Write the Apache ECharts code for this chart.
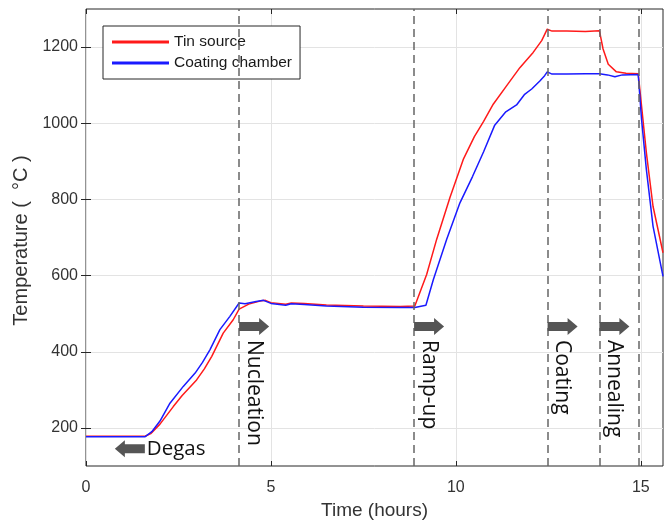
<!DOCTYPE html>
<html>
<head>
<meta charset="utf-8">
<script src="https://cdn.jsdelivr.net/npm/echarts@6/dist/echarts.min.js"></script>
<style>html,body{margin:0;padding:0;background:#fff;}#c{width:670px;height:520px;}</style>
</head>
<body>
<div id="c"></div>
<script>
// ---- data ----
const tinTime = [0, 1.6, 1.75, 2.0, 2.36, 2.6, 2.99, 3.2, 3.4, 3.71, 3.98, 4.14, 4.4, 4.7, 4.85, 5.0, 5.4, 5.55, 5.9, 6.5, 7.5, 8.5, 8.89,
  9.21, 9.48, 9.84, 10.2, 10.5, 10.75, 11.01, 11.37, 11.73, 12.09, 12.32, 12.47, 12.6, 13.0, 13.5, 13.88, 13.98, 14.12, 14.34, 14.6, 14.93, 15.15, 15.33, 15.6];
const tinTemp = [178, 178, 185, 210, 256, 285, 326, 355, 388, 449, 484, 512, 525, 533, 535, 529, 525, 528, 527, 523, 520, 519, 520,
  603, 695, 805, 905, 965, 1005, 1050, 1098, 1146, 1186, 1217, 1247, 1242, 1242, 1241, 1243, 1195, 1155, 1135, 1131, 1130, 923, 782, 660];
const chamberTime = [0, 1.6, 1.78, 2.0, 2.27, 2.63, 2.95, 3.15, 3.35, 3.62, 3.89, 4.14, 4.3, 4.6, 4.8, 5.0, 5.4, 5.55, 5.9, 6.5, 7.5, 8.5, 8.89,
  9.19, 9.39, 9.75, 10.11, 10.45, 10.75, 11.05, 11.35, 11.64, 11.85, 12.05, 12.27, 12.4, 12.47, 12.6, 13.0, 13.5, 13.88, 14.1, 14.3, 14.5, 14.93, 15.02, 15.15, 15.33, 15.6];
const chamberTemp = [177, 177, 190, 218, 265, 309, 344, 372, 405, 458, 493, 528, 526, 532, 535, 527, 522, 526, 524, 520, 517, 516, 516,
  522, 589, 695, 791, 860, 925, 995, 1030, 1048, 1075, 1090, 1111, 1125, 1135, 1129, 1129, 1130, 1130, 1127, 1122, 1127, 1128, 1010, 879, 730, 598];
const seriesNames = ['Tin source', 'Coating chamber'];
const xTicks = [0, 5, 10, 15];
const yTicks = [200, 400, 600, 800, 1000, 1200];
const phaseTimes = [4.14, 8.87, 12.48, 13.88, 14.94];
const phaseLabels = ['Nucleation', 'Ramp-up', 'Coating', 'Annealing'];
const degasLabel = 'Degas';

const chart = echarts.init(document.getElementById('c'), null, {renderer: 'canvas'});
const pairs = (xs, ys) => xs.map((x, i) => [x, ys[i]]);
const FONT = 'Liberation Sans, Arial, sans-serif';
const tickStyle = {inside: true, length: 5, lineStyle: {color: '#262626', width: 1}};

chart.setOption({
  animation: false,
  grid: {left: 86, right: 7, top: 9, bottom: 54, containLabel: false, outerBoundsMode: 'none',
    show: true, borderColor: '#262626', borderWidth: 1, backgroundColor: 'transparent'},
  legend: {
    left: 103, top: 26, orient: 'vertical', icon: 'rect', itemWidth: 57, itemHeight: 3, itemGap: 5,
    padding: [8, 8, 8, 9], borderColor: '#262626', borderWidth: 1, backgroundColor: '#fff',
    textStyle: {fontFamily: FONT, fontSize: 15.5, color: '#1a1a1a'},
    data: seriesNames
  },
  xAxis: [
    {
      type: 'value', min: 0, max: 15.6, position: 'bottom', axisLine: {show: false},
      axisTick: Object.assign({customValues: xTicks}, tickStyle),
      axisLabel: {customValues: xTicks, fontFamily: FONT, fontSize: 16, color: '#333', margin: 14},
      splitLine: {show: true, lineStyle: {color: '#e3e3e3', width: 1}},
      name: 'Time (hours)', nameLocation: 'middle', nameGap: 31,
      nameTextStyle: {fontFamily: FONT, fontSize: 19, color: '#333'}
    },
    {
      type: 'value', min: 0, max: 15.6, position: 'top', axisLine: {show: false},
      axisTick: Object.assign({customValues: xTicks}, tickStyle),
      axisLabel: {show: false}, splitLine: {show: false}
    }
  ],
  yAxis: [
    {
      type: 'value', min: 100, max: 1300, position: 'left', axisLine: {show: false},
      axisTick: Object.assign({customValues: yTicks}, tickStyle),
      axisLabel: {customValues: yTicks, formatter: v => String(v), fontFamily: FONT, fontSize: 16, color: '#333', margin: 8},
      splitLine: {show: true, lineStyle: {color: '#e3e3e3', width: 1}},
      name: 'Temperature (  °C )', nameLocation: 'middle', nameGap: 41,
      nameTextStyle: {fontFamily: FONT, fontSize: 20, color: '#333', padding: [0, 6, 0, 0]}
    },
    {
      type: 'value', min: 100, max: 1300, position: 'right', axisLine: {show: false},
      axisTick: Object.assign({customValues: yTicks}, tickStyle),
      axisLabel: {show: false}, splitLine: {show: false}
    }
  ],
  series: [
    {
      name: seriesNames[0], type: 'line', data: pairs(tinTime, tinTemp), showSymbol: false, symbol: 'none',
      lineStyle: {color: '#ff1a1a', width: 1.5}, itemStyle: {color: '#ff1a1a'}, z: 3,
      markLine: {
        silent: true, symbol: 'none', label: {show: false},
        lineStyle: {color: '#666', type: [8, 5], width: 1.5},
        data: phaseTimes.map(t => ({xAxis: t}))
      }
    },
    {
      name: seriesNames[1], type: 'line', data: pairs(chamberTime, chamberTemp), showSymbol: false, symbol: 'none',
      lineStyle: {color: '#1a1aff', width: 1.5}, itemStyle: {color: '#1a1aff'}, z: 4
    }
  ]
});

// ---- annotations (arrows + phase labels), anchored in data coordinates ----
const ARROW_T = 466, DEGAS_T = 145, LABEL_TOP_T = 431, DEGAS_ARROW_END = 0.78;
function arrowPoints(x0, y, dir) {
  const L = 30, hl = 10, sh = 4.5, hh = 8.5;
  const pts = [[0, -sh], [L - hl, -sh], [L - hl, -hh], [L, 0], [L - hl, hh], [L - hl, sh], [0, sh]];
  return pts.map(p => [x0 + dir * p[0], y + p[1]]);
}
const toPx = (t, v) => chart.convertToPixel({xAxisIndex: 0, yAxisIndex: 0}, [t, v]);
const graphics = [];
phaseLabels.forEach((lab, i) => {
  const p = toPx(phaseTimes[i], ARROW_T);
  const top = toPx(phaseTimes[i], LABEL_TOP_T);
  graphics.push({type: 'polygon', shape: {points: arrowPoints(p[0], p[1], 1)}, style: {fill: '#555'}, z: 10});
  graphics.push({type: 'text', x: p[0] + 14.5, y: top[1], rotation: -Math.PI / 2,
    style: {text: lab, fontFamily: 'Open Sans, sans-serif', fontSize: 21, fill: '#111', textAlign: 'left', textVerticalAlign: 'middle'}, z: 10});
});
const dg = toPx(DEGAS_ARROW_END, DEGAS_T);
graphics.push({type: 'polygon', shape: {points: arrowPoints(dg[0] + 30, dg[1], -1)}, style: {fill: '#555'}, z: 10});
graphics.push({type: 'text', x: dg[0] + 32, y: dg[1],
  style: {text: degasLabel, fontFamily: 'Open Sans, sans-serif', fontSize: 20.5, fill: '#111', textAlign: 'left', textVerticalAlign: 'middle'}, z: 10});
chart.setOption({graphic: graphics});
</script>
</body>
</html>
